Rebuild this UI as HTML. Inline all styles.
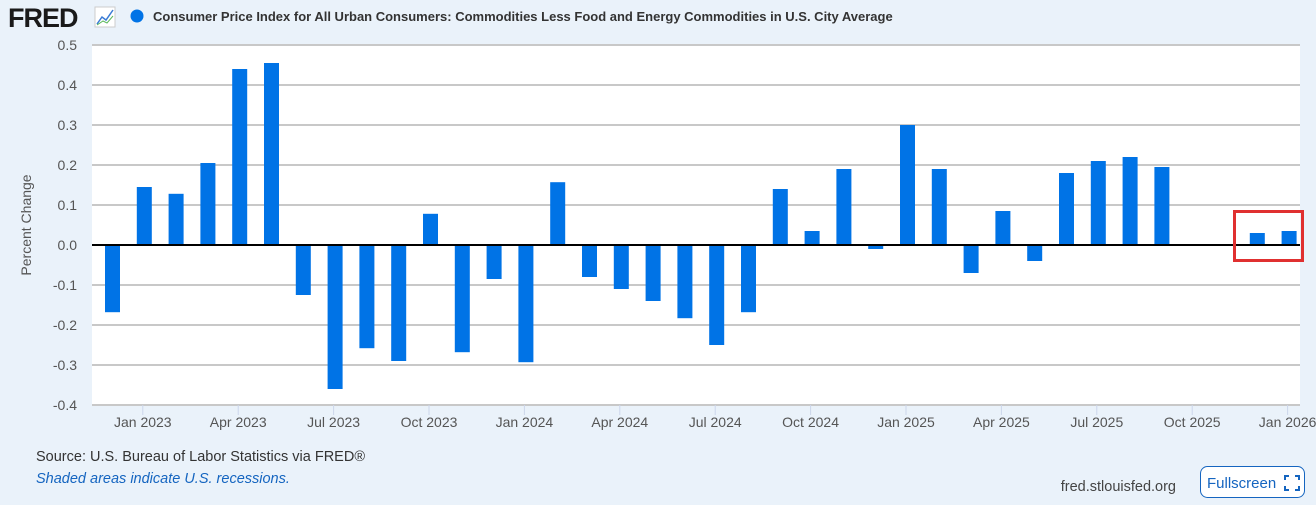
<!DOCTYPE html>
<html><head><meta charset="utf-8"><style>
body{margin:0;background:#eaf2fa;font-family:"Liberation Sans",sans-serif;}
#wrap{position:relative;width:1316px;height:505px;overflow:hidden;background:#eaf2fa;}
</style></head><body><div id="wrap">
<svg id="svg" width="1316" height="505" xmlns="http://www.w3.org/2000/svg">
<text x="8" y="27" font-size="27" font-weight="bold" fill="#1a1a1a" font-family="Liberation Sans,sans-serif" letter-spacing="-1">FRED</text>
<g><rect x="95" y="7" width="20" height="20" fill="#fff" stroke="#ccc"/><polyline points="97,24 102,17 106,20 113,10" fill="none" stroke="#3a7bd5" stroke-width="1.5"/><polyline points="97,25 103,21 107,23 113,16" fill="none" stroke="#5cb85c" stroke-width="1"/></g>
<circle cx="137" cy="16" r="6.5" fill="#0073e6"/>
<text x="153" y="21" font-size="13" font-weight="bold" fill="#333">Consumer Price Index for All Urban Consumers: Commodities Less Food and Energy Commodities in U.S. City Average</text>
<rect x="92" y="46" width="1208" height="359" fill="#fff"/>
<g id="grid"></g><g id="bars"></g><g id="xt"></g>
<text transform="translate(31,225) rotate(-90)" text-anchor="middle" font-size="14" fill="#555">Percent Change</text>
<rect x="1234.5" y="211.5" width="68" height="49" fill="none" stroke="#e03030" stroke-width="3"/>
<text x="36" y="461" font-size="14.5" fill="#333">Source: U.S. Bureau of Labor Statistics via FRED®</text>
<text x="36" y="483" font-size="14.5" font-style="italic" fill="#1565c0">Shaded areas indicate U.S. recessions.</text>
<text x="1176" y="491" text-anchor="end" font-size="14.5" fill="#444">fred.stlouisfed.org</text>
<g><rect x="1200.5" y="466.5" width="104" height="31" rx="7" fill="#fff" stroke="#1565c0"/><text x="1207" y="488" font-size="15" fill="#1565c0">Fullscreen</text><path d="M1285 480v-4h4M1295 476h4v4M1299 486v4h-4M1289 490h-4v-4" fill="none" stroke="#1565c0" stroke-width="2"/></g>
</svg></div>
<script>
const months=["Dec 2022","Jan 2023","Feb 2023","Mar 2023","Apr 2023","May 2023","Jun 2023","Jul 2023","Aug 2023","Sep 2023","Oct 2023","Nov 2023","Dec 2023","Jan 2024","Feb 2024","Mar 2024","Apr 2024","May 2024","Jun 2024","Jul 2024","Aug 2024","Sep 2024","Oct 2024","Nov 2024","Dec 2024","Jan 2025","Feb 2025","Mar 2025","Apr 2025","May 2025","Jun 2025","Jul 2025","Aug 2025","Sep 2025","Oct 2025","Nov 2025","Dec 2025","Jan 2026"];
const values=[-0.168,0.145,0.128,0.205,0.44,0.455,-0.125,-0.36,-0.258,-0.29,0.078,-0.268,-0.085,-0.293,0.157,-0.08,-0.11,-0.14,-0.183,-0.25,-0.168,0.14,0.035,0.19,-0.01,0.30,0.19,-0.07,0.085,-0.04,0.18,0.21,0.22,0.195,null,null,0.03,0.035];
const yTicks=[0.5,0.4,0.3,0.2,0.1,0.0,-0.1,-0.2,-0.3,-0.4];
const yTickLabels=["0.5","0.4","0.3","0.2","0.1","0.0","-0.1","-0.2","-0.3","-0.4"];
const xTickLabels=["Jan 2023","Apr 2023","Jul 2023","Oct 2023","Jan 2024","Apr 2024","Jul 2024","Oct 2024","Jan 2025","Apr 2025","Jul 2025","Oct 2025","Jan 2026"];
const NS="http://www.w3.org/2000/svg";
function y(v){return 245-v*400;}
function x(i){return 112.5+i*31.8;}
function mk(t,a,p){const e=document.createElementNS(NS,t);for(const k in a)e.setAttribute(k,a[k]);document.getElementById(p).appendChild(e);return e;}
yTicks.forEach((v,i)=>{
 if(v!==0){const l=mk('line',{x1:92,x2:1300,y1:y(v),y2:y(v),stroke:'#c8c8c8','stroke-width':2},'grid');
 
 }
 const t=mk('text',{x:77,y:y(v)+5,'text-anchor':'end','font-size':14,fill:'#555'},'grid');t.textContent=yTickLabels[i];
 
 
});
values.forEach((v,i)=>{if(v===null)return;
 const r=mk('rect',{x:x(i)-7.5,width:15,y:Math.min(y(v),y(0)),height:Math.abs(y(v)-y(0)),fill:'#0073e6'},'bars');
 
 
});
const z=mk('line',{x1:92,x2:1300,y1:y(0),y2:y(0),stroke:'#000','stroke-width':2},'bars');


xTickLabels.forEach(lb=>{const i=months.indexOf(lb);const xx=x(i)-1.5;
 mk('line',{x1:xx,x2:xx,y1:405,y2:415,stroke:'#ccd6eb'},'xt');
 const t=mk('text',{x:xx,y:427,'text-anchor':'middle','font-size':14,fill:'#555'},'xt');t.textContent=lb;
 
 
});
</script></body></html>
